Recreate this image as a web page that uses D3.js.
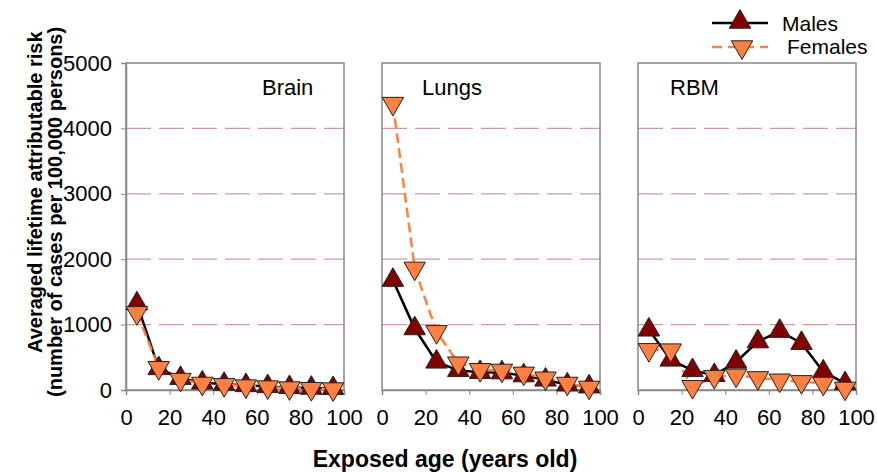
<!DOCTYPE html>
<html>
<head>
<meta charset="utf-8">
<script src="https://cdn.jsdelivr.net/npm/d3@7/dist/d3.min.js"></script>
<style>
  body { margin: 0; background: #fff; }
  text { font-family: "Liberation Sans", Arial, sans-serif; }
</style>
</head>
<body>
<svg width="877" height="473"></svg>
<script>
// exposed ages (midpoints of each 10-year band)
var ages = [5, 15, 25, 35, 45, 55, 65, 75, 85, 95];
var panels = ["Brain", "Lungs", "RBM"];

var brainMales   = [1320, 330, 180, 110, 90, 70, 55, 40, 30, 25];
var brainFemales = [1180, 340, 160, 100, 80, 60, 45, 30, 20, 15];
var lungsMales   = [1680, 940, 430, 300, 270, 265, 220, 155, 80, 50];
var lungsFemales = [4380, 1860, 890, 410, 310, 300, 255, 180, 100, 40];
var rbmMales     = [920, 460, 300, 225, 430, 740, 900, 715, 280, 100];
var rbmFemales   = [615, 610, 50, 205, 225, 185, 150, 125, 100, 25];

var xTicks = [0, 20, 40, 60, 80, 100];
var yTicks = [0, 1000, 2000, 3000, 4000, 5000];
var gridTicks = [1000, 2000, 3000, 4000];

var males = [brainMales, lungsMales, rbmMales];
var females = [brainFemales, lungsFemales, rbmFemales];

var svg = d3.select("svg");
var plotTop = 63, plotBottom = 390;
var panelLeft = [126, 382, 638];
var panelWidth = 218;

var maleFill = "#800000", femaleFill = "#ff8040", femaleLine = "#ff8040";

var y = d3.scaleLinear().domain([0, 5000]).range([plotBottom, plotTop]);
var tri = d3.symbol().type(d3.symbolTriangle).size(200);

panels.forEach(function(name, i) {
  var x = d3.scaleLinear().domain([0, 100]).range([panelLeft[i], panelLeft[i] + panelWidth]);
  var g = svg.append("g");

  // dashed grid lines
  g.selectAll(".grid")
    .data(gridTicks)
    .enter()
    .append("line")
      .attr("x1", x(0)).attr("x2", x(100))
      .attr("y1", d => y(d)).attr("y2", d => y(d))
      .attr("stroke", "#d09a9a")
      .attr("stroke-width", 1.3)
      .attr("stroke-dasharray", "25,8");

  // frame
  g.append("rect")
    .attr("x", x(0)).attr("y", plotTop)
    .attr("width", panelWidth).attr("height", plotBottom - plotTop)
    .attr("fill", "none")
    .attr("stroke", "#888")
    .attr("stroke-width", 1.5);

  // x axis
  var xAxis = d3.axisBottom(x).tickValues(xTicks).tickSize(5).tickPadding(14);
  var xg = g.append("g").attr("transform", "translate(0," + plotBottom + ")").call(xAxis);
  xg.select(".domain").attr("stroke", "#888").attr("stroke-width", 1.5);
  xg.selectAll(".tick line").attr("stroke", "#888");
  xg.selectAll("text").attr("font-size", 22).attr("fill", "#000")
    .attr("font-family", "Liberation Sans, Arial, sans-serif");

  if (i === 0) {
    var yAxis = d3.axisLeft(y).tickValues(yTicks).tickFormat(d3.format("d"))
      .tickSize(5).tickPadding(9);
    var yg = g.append("g").attr("transform", "translate(" + x(0) + ",0)").call(yAxis);
    yg.select(".domain").attr("stroke", "#888").attr("stroke-width", 1.5);
    yg.selectAll(".tick line").attr("stroke", "#888");
    yg.selectAll("text").attr("font-size", 22).attr("fill", "#000")
      .attr("font-family", "Liberation Sans, Arial, sans-serif");
  }

  // panel label
  var labelX = [262, 422, 670];
  g.append("text")
    .attr("x", labelX[i]).attr("y", 95)
    .attr("font-size", 22)
    .text(name);

  var line = d3.line().x((d, j) => x(ages[j])).y(d => y(d));

  // males: solid black line with up triangles
  g.append("path")
    .datum(males[i])
    .attr("d", line)
    .attr("fill", "none")
    .attr("stroke", "#000")
    .attr("stroke-width", 2.5);

  // females: dashed orange line with down triangles
  g.append("path")
    .datum(females[i])
    .attr("d", line)
    .attr("fill", "none")
    .attr("stroke", femaleLine)
    .attr("stroke-width", 2.5)
    .attr("stroke-dasharray", "10,5");

  g.selectAll(".m")
    .data(males[i])
    .enter()
    .append("path")
      .attr("d", tri)
      .attr("transform", (d, j) => "translate(" + x(ages[j]) + "," + y(d) + ")")
      .attr("fill", maleFill)
      .attr("stroke", "#222")
      .attr("stroke-width", 1);

  g.selectAll(".f")
    .data(females[i])
    .enter()
    .append("path")
      .attr("d", tri)
      .attr("transform", (d, j) => "translate(" + x(ages[j]) + "," + y(d) + ") rotate(180)")
      .attr("fill", femaleFill)
      .attr("stroke", "#222")
      .attr("stroke-width", 1);
});

// legend
svg.append("line").attr("x1", 712).attr("x2", 768).attr("y1", 23).attr("y2", 23)
  .attr("stroke", "#000").attr("stroke-width", 2.5);
svg.append("path").attr("d", tri).attr("transform", "translate(740,22)")
  .attr("fill", maleFill).attr("stroke", "#222");
svg.append("text").attr("x", 782).attr("y", 31).attr("font-size", 21).text("Males");

svg.append("line").attr("x1", 712).attr("x2", 768).attr("y1", 47).attr("y2", 47)
  .attr("stroke", femaleLine).attr("stroke-width", 2.5).attr("stroke-dasharray", "10,6");
svg.append("path").attr("d", tri).attr("transform", "translate(742,47) rotate(180)")
  .attr("fill", femaleFill).attr("stroke", "#222");
svg.append("text").attr("x", 787).attr("y", 54).attr("font-size", 21).text("Females");

// axis titles
svg.append("text")
  .attr("transform", "translate(42,353) rotate(-90)")
  .attr("font-size", 20).attr("font-weight", "bold")
  .text("Averaged lifetime attributable risk");
svg.append("text")
  .attr("transform", "translate(62,397) rotate(-90)")
  .attr("font-size", 20).attr("font-weight", "bold")
  .text("(number of cases per 100,000 persons)");
svg.append("text")
  .attr("x", 445).attr("y", 467)
  .attr("text-anchor", "middle")
  .attr("font-size", 23).attr("font-weight", "bold")
  .text("Exposed age (years old)");
</script>
</body>
</html>
